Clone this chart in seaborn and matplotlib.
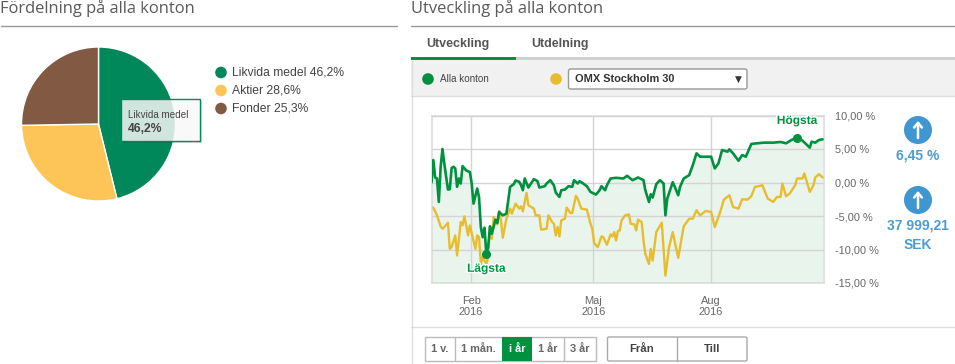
"""
Account overview: allocation pie and development line chart
"""

import matplotlib
matplotlib.use("Agg")
import matplotlib.pyplot as plt
from matplotlib.patches import Circle, FancyBboxPatch, Rectangle
import matplotlib.patheffects as pe
import pandas as pd
import seaborn as sns

W, H = 955, 364

pie_labels = ["Likvida medel", "Aktier", "Fonder"]
pie_values = [46.2, 28.6, 25.3]
pie_colors = ["#00875a", "#fdc558", "#825a43"]

# trading session number and % change
green_sessions = [0, 1, 2, 3, 4, 5, 6, 7, 9, 10, 11, 12, 13, 14, 15, 16, 17, 19, 21, 22, 23, 25, 26, 27, 28, 29,
                  30, 31, 32, 33, 35, 36, 37, 39, 41, 43, 45, 46, 48, 49, 50, 51, 53, 56, 58, 59, 62, 63, 65, 67,
                  68, 70, 71, 73, 75, 77, 78, 80, 81, 83, 85, 87, 90, 92, 93, 95, 96, 98, 101, 105, 107, 110, 112,
                  113, 116, 117, 119, 120, 121, 123, 125, 127, 128, 129, 132, 133, 135, 136, 138, 141, 143, 145,
                  147, 150, 153, 155, 157, 159, 162, 163, 165, 168, 170, 172, 175, 178, 182, 187, 191, 194, 197,
                  200, 203, 207, 208, 210, 212, 214]
green_values = [0.0, 3.35, 0.75, 0.6, -2.9, 2.35, 5.0, 2.85, -1.05, -1.0, 2.15, 2.35, 2.1, -0.65, 0.6, -0.15, 2.45,
                1.8, 1.55, -0.15, -3.15, -0.9, -2.15, -6.65, -8.15, -6.75, -10.6, -9.65, -6.55, -7.65, -5.55,
                -6.05, -4.4, -4.9, -4.65, -0.65, -0.25, 0.3, 0.1, -0.4, -1.15, 0.6, -0.75, 0.5, 0.2, -0.75, -0.55,
                -0.15, 0.35, -0.45, -1.5, -2.15, -1.15, -1.05, -0.55, -0.65, 0.35, -0.15, 0.2, -0.15, -0.55, -1.4,
                -1.8, -1.15, -0.55, -1.15, -0.4, 0.6, 0.7, 0.6, 1.0, 0.35, 0.6, 0.75, 0.35, -1.15, -2.9, -1.75,
                -2.25, -0.25, 0.35, -0.15, -4.9, -2.4, 0.05, -0.55, -1.9, -0.65, 0.6, 1.1, 2.6, 4.35, 3.85, 3.85,
                3.85, 2.1, 2.85, 4.85, 4.6, 4.95, 4.35, 3.25, 4.1, 3.85, 5.75, 5.85, 5.95, 5.95, 6.05, 5.85, 6.35,
                6.7, 6.25, 5.2, 6.1, 5.95, 6.35, 6.45]

yellow_sessions = [1, 3, 5, 6, 7, 9, 10, 11, 13, 14, 16, 17, 18, 20, 21, 24, 25, 26, 27, 28, 30, 31, 32, 33, 34, 36,
                   37, 38, 39, 41, 43, 44, 46, 48, 49, 50, 52, 53, 56, 57, 59, 60, 63, 64, 66, 67, 68, 69, 70, 71,
                   73, 74, 76, 77, 79, 80, 82, 85, 87, 88, 89, 91, 93, 94, 96, 98, 99, 100, 101, 102, 103, 104, 106,
                   108, 109, 111, 112, 113, 115, 116, 117, 119, 120, 121, 123, 126, 128, 130, 132, 135, 138, 141,
                   143, 145, 147, 150, 153, 155, 158, 160, 163, 165, 168, 170, 173, 175, 177, 179, 181, 184, 187,
                   189, 191, 192, 194, 196, 199, 200, 203, 204, 207, 209, 210, 212, 214]
yellow_values = [-3.75, -4.9, -6.55, -6.9, -6.65, -6.0, -9.9, -9.65, -7.9, -10.9, -5.9, -6.4, -5.05, -7.9, -6.4,
                 -9.9, -7.9, -8.15, -12.15, -11.15, -12.15, -11.15, -6.55, -8.4, -5.15, -6.25, -4.25, -5.65, -8.25,
                 -5.4, -3.9, -4.65, -3.15, -3.9, -3.55, -4.3, -1.55, -3.4, -3.9, -4.9, -4.9, -7.05, -6.9, -4.9,
                 -5.9, -6.15, -7.9, -6.65, -8.05, -5.65, -5.4, -3.75, -4.55, -4.55, -2.0, -2.4, -3.9, -4.05, -6.15,
                 -6.9, -9.05, -9.65, -8.05, -8.15, -9.3, -7.75, -8.05, -7.4, -8.65, -7.25, -7.15, -5.65, -4.9,
                 -4.75, -6.15, -6.25, -7.15, -5.55, -5.9, -8.65, -10.65, -12.15, -9.9, -11.65, -7.4, -6.0, -13.9,
                 -9.65, -7.4, -11.25, -6.55, -5.4, -5.4, -4.15, -4.9, -4.25, -4.4, -6.65, -4.4, -2.55, -1.9, -3.65,
                 -3.9, -2.5, -2.55, -2.05, -0.65, -0.55, -0.4, -2.4, -2.9, -2.15, -2.15, -0.15, -2.05, -1.65, -0.4,
                 0.6, 0.6, 1.35, -1.4, -0.4, 0.75, 1.25, 0.75]

month_sessions = [21.7, 88.5, 153]
month_labels = ["Feb\n2016", "Maj\n2016", "Aug\n2016"]
y_ticks = [10, 5, 0, -5, -10, -15]
y_labels = ["10,00 %", "5,00 %", "0,00 %", "-5,00 %", "-10,00 %", "-15,00 %"]

low_point = (30, -10.6)
high_point = (200, 6.7)

GREEN = "#00913f"
YELLOW = "#e8bd2d"
BLUE = "#4096d0"
TEXT = "#444444"


def px_axes(fig, x0, y0, x1, y1, **kw):
    """Axes placed by pixel box, y measured from the top."""
    return fig.add_axes([x0 / W, 1 - y1 / H, (x1 - x0) / W, (y1 - y0) / H], **kw)


sns.set_style("white")
plt.rcParams["font.family"] = ["Liberation Sans", "DejaVu Sans"]

fig = plt.figure(figsize=(W / 100, H / 100), dpi=100, facecolor="white")

# pie
ax_pie = px_axes(fig, 21.5, 47, 175.5, 201)
ax_pie.pie(pie_values, colors=pie_colors, startangle=90, counterclock=False, radius=1,
           wedgeprops={"edgecolor": "white", "linewidth": 1})
ax_pie.set_xlim(-1, 1)
ax_pie.set_ylim(-1, 1)

# line chart
ax = px_axes(fig, 431.5, 115.5, 823.5, 283)
frame = pd.DataFrame({"session": green_sessions, "value": green_values})
frame_y = pd.DataFrame({"session": yellow_sessions, "value": yellow_values})
ax.fill_between(frame["session"], frame["value"], -15, color="#e8f4ec", lw=0, zorder=1)
sns.lineplot(data=frame_y, x="session", y="value", ax=ax, color=YELLOW, lw=1.7, estimator=None, zorder=3)
sns.lineplot(data=frame, x="session", y="value", ax=ax, color=GREEN, lw=1.9, estimator=None, zorder=4)
ax.set_xlim(0, 214.5)
ax.set_ylim(-15, 10)
ax.set_xlabel("")
ax.set_ylabel("")
ax.set_xticks(month_sessions, month_labels)
ax.set_yticks(y_ticks, y_labels)
ax.yaxis.tick_right()
ax.tick_params(axis="x", length=0, pad=9, labelsize=7.9, labelcolor="#666666")
ax.tick_params(axis="y", length=0, pad=8, labelsize=7.9, labelcolor="#666666")
ax.grid(True, color="#d6d2d6", lw=1, zorder=2)
ax.set_axisbelow(False)
for spine in ax.spines.values():
    spine.set_color("#dddddd")
    spine.set_linewidth(1.2)
ax.patch.set_alpha(0)

halo = [pe.withStroke(linewidth=2, foreground="white")]
ax.plot(*low_point, "o", color=GREEN, ms=5.5, zorder=5)
ax.plot(*high_point, "o", color=GREEN, ms=5.5, zorder=5)
ax.annotate("Lägsta", low_point, xytext=(0, -11), textcoords="offset points", ha="center", va="center",
            color=GREEN, fontsize=8.6, fontweight="bold", path_effects=halo, zorder=6)
ax.annotate("Högsta", high_point, xytext=(0, 12), textcoords="offset points", ha="center", va="center",
            color=GREEN, fontsize=8.6, fontweight="bold", path_effects=halo, zorder=6)

# page furniture, drawn in pixel coordinates on a see-through overlay
ui = fig.add_axes([0, 0, 1, 1], zorder=5)
ui.set_xlim(0, W)
ui.set_ylim(H, 0)
ui.axis("off")

TITLE_FONT = {"family": "Open Sans", "fontsize": 11.9, "color": "#5a5a5a", "va": "center"}
ui.text(0, 8.5, "Fördelning på alla konton", **TITLE_FONT)
ui.text(411, 8.5, "Utveckling på alla konton", **TITLE_FONT)
ui.plot([1, 397], [26, 26], color="#999999", lw=1)
ui.plot([411, 955], [26, 26], color="#999999", lw=1)

# pie legend
for i, (name, val, col) in enumerate(zip(pie_labels, pie_values, pie_colors)):
    y = 72.5 + i * 18
    ui.add_patch(Circle((221, y), 5.8, color=col, lw=0))
    ui.text(232, y, f"{name} {val:.1f}%".replace(".", ","), fontsize=8.7, color=TEXT, va="center")

# tooltip on the green slice
ui.add_patch(Rectangle((123, 101), 79, 42, color="#000000", alpha=0.12, lw=0))
ui.add_patch(Rectangle((121, 99), 79, 42, facecolor=(1, 1, 1, 0.82), edgecolor="#00875a", lw=1))
ui.text(128, 115, pie_labels[0], fontsize=7.1, color=TEXT, va="center")
ui.text(128, 129, f"{pie_values[0]:.1f}%".replace(".", ","), fontsize=8.7, fontweight="bold", color=TEXT, va="center")

# tabs
ui.text(426, 44.5, "Utveckling", fontsize=9, fontweight="bold", color="#555555", va="center")
ui.text(531, 44.5, "Utdelning", fontsize=9, fontweight="bold", color="#555555", va="center")
ui.add_patch(Rectangle((411, 57), 544, 3, color="#d0d0d0", lw=0))
ui.add_patch(Rectangle((411, 57), 105, 3, color=GREEN, lw=0))

# series selector band
ui.add_patch(Rectangle((411, 60), 544, 35.5, color="#f1f1f1", lw=0))
ui.plot([411, 955], [95.5, 95.5], color="#dddddd", lw=1)
ui.plot([411.5, 411.5], [60, H], color="#dddddd", lw=1)
ui.add_patch(Circle((428, 79), 5.8, color=GREEN, lw=0))
ui.text(440, 79, "Alla konton", fontsize=7.1, color=TEXT, va="center")
ui.add_patch(Circle((556, 79), 5.8, color=YELLOW, lw=0))
ui.add_patch(FancyBboxPatch((568.5, 69), 178.5, 20, boxstyle="round,pad=0,rounding_size=2", mutation_aspect=1,
                            facecolor="white", edgecolor="#999999", lw=1))
ui.text(575, 79.5, "OMX Stockholm 30", fontsize=7.9, fontweight="bold", color="#333333", va="center")
ui.text(738, 79.5, "▼", family="DejaVu Sans", fontsize=6.5, color="#333333", va="center", ha="center")

# right hand key figures
for y in (130, 200):
    ui.add_patch(Circle((918, y), 14, color=BLUE, lw=0))
    ui.annotate("", xy=(918, y - 9), xytext=(918, y + 8),
                arrowprops=dict(arrowstyle="->,head_width=0.28,head_length=0.33", color="white", lw=1.8,
                                shrinkA=0, shrinkB=0))
KEY_FONT = {"fontsize": 10, "fontweight": "bold", "color": "#4f9bd4", "ha": "center", "va": "center"}
ui.text(918, 156, "6,45 %", **KEY_FONT)
ui.text(918, 226, "37 999,21", **KEY_FONT)
ui.text(918, 245, "SEK", **KEY_FONT)

# range buttons
ui.plot([411, 955], [326.5, 326.5], color="#dddddd", lw=1)
ui.add_patch(Rectangle((424.5, 337), 171.5, 24, facecolor="white", edgecolor="#bbbbbb", lw=1))
ui.add_patch(Rectangle((502, 337), 30, 24, color=GREEN, lw=0))
for x in (454.5, 563.5):
    ui.plot([x, x], [337, 361], color="#bbbbbb", lw=1)
range_names = ["1 v.", "1 mån.", "i år", "1 år", "3 år"]
range_x = [439.5, 478, 517, 548, 580]
for name, x in zip(range_names, range_x):
    ui.text(x, 349, name, fontsize=7.9, fontweight="bold", ha="center", va="center",
            color="white" if name == "i år" else "#666666")
ui.add_patch(FancyBboxPatch((607.5, 337), 139.5, 24, boxstyle="round,pad=0,rounding_size=1.5",
                            facecolor="white", edgecolor="#aaaaaa", lw=1))
ui.plot([676.5, 676.5], [337, 361], color="#aaaaaa", lw=1)
ui.text(642, 349.5, "Från", fontsize=8.2, fontweight="bold", color="#444444", ha="center", va="center")
ui.text(712, 349.5, "Till", fontsize=8.2, fontweight="bold", color="#444444", ha="center", va="center")

fig.savefig("out.png", dpi=100)
plt.close(fig)
